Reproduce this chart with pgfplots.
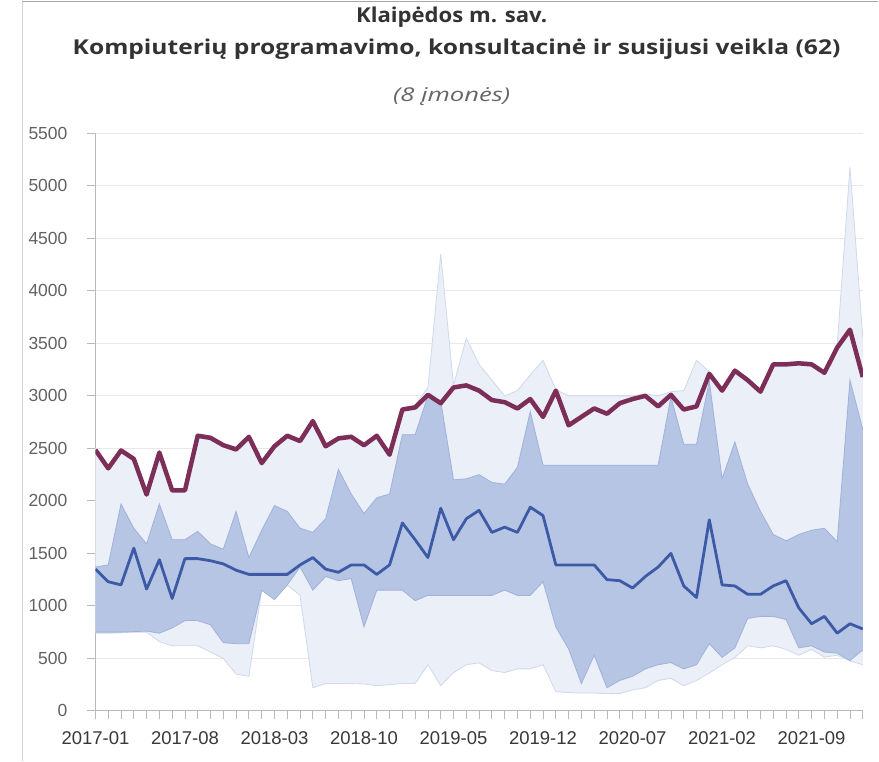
\documentclass[border=0pt]{standalone}
\usepackage{fontspec}
\setmainfont{Liberation Sans}
\newfontfamily\titlefont{Open Sans}
\usepackage{pgfplots}
\pgfplotsset{compat=1.18}
\usepackage{pgfplotstable}
\usepgfplotslibrary{fillbetween}

\definecolor{meanc}{RGB}{124,46,88}
\definecolor{medc}{RGB}{60,90,165}
\definecolor{innerc}{RGB}{183,197,228}
\definecolor{innerb}{RGB}{160,177,218}
\definecolor{outerc}{RGB}{234,239,248}
\definecolor{outerb}{RGB}{208,216,236}
\definecolor{titlec}{RGB}{51,51,51}

\pgfplotstableread{
m mx q3 med q1 mn avg
0 2505 1370 1350 750 740 2485
1 2330 1390 1230 750 740 2310
2 2500 1970 1200 750 745 2480
3 2420 1740 1550 755 750 2400
4 2080 1590 1160 760 750 2060
5 2480 1970 1440 740 660 2460
6 2120 1630 1070 790 620 2100
7 2120 1630 1450 860 620 2100
8 2640 1710 1450 860 620 2620
9 2620 1590 1430 820 560 2600
10 2550 1540 1400 650 500 2530
11 2510 1900 1340 640 350 2490
12 2630 1460 1300 640 330 2610
13 2380 1720 1300 1150 1150 2360
14 2540 1955 1300 1060 1060 2520
15 2640 1900 1300 1200 1200 2620
16 2590 1740 1390 1370 1100 2570
17 2780 1700 1460 1150 220 2760
18 2540 1830 1350 1280 260 2520
19 2615 2300 1320 1240 260 2595
20 2630 2065 1390 1260 260 2610
21 2550 1880 1390 800 256 2530
22 2640 2030 1300 1150 240 2620
23 2460 2065 1390 1150 250 2440
24 2890 2630 1790 1150 260 2870
25 2910 2630 1630 1050 260 2890
26 3080 3000 1460 1100 440 3010
27 4350 2950 1930 1100 240 2930
28 3100 2200 1630 1100 365 3080
29 3550 2210 1830 1100 440 3100
30 3300 2250 1910 1100 457 3050
31 3150 2175 1700 1100 384 2960
32 3000 2160 1750 1150 365 2940
33 3050 2320 1700 1100 400 2880
34 3200 2850 1940 1100 400 2970
35 3340 2340 1860 1230 440 2800
36 3060 2340 1390 800 183 3050
37 3000 2340 1390 590 175 2720
38 3000 2340 1390 260 170 2800
39 3000 2340 1390 530 170 2880
40 3000 2340 1250 220 164 2830
41 3000 2340 1240 290 165 2930
42 3000 2340 1170 330 200 2970
43 3020 2340 1280 400 220 3000
44 3000 2340 1370 440 290 2900
45 3040 2990 1500 460 310 3010
46 3050 2540 1190 400 240 2870
47 3340 2540 1080 440 290 2900
48 3230 3140 1820 640 360 3210
49 3070 2210 1200 510 440 3050
50 3260 2560 1190 600 510 3240
51 3170 2160 1110 880 620 3150
52 3060 1900 1110 900 600 3040
53 3320 1680 1190 900 620 3300
54 3320 1620 1240 870 585 3300
55 3330 1680 980 600 530 3310
56 3320 1720 830 620 585 3300
57 3240 1740 900 560 512 3220
58 3480 1610 740 550 530 3460
59 5180 3150 830 480 475 3630
60 3560 2680 780 580 440 3180
}\data

\begin{document}
\begin{tikzpicture}
\path (0pt,0pt) rectangle (879pt,761pt);
\draw[gray!35, line width=1pt] (23pt,0pt)--(23pt,761pt);
\draw[gray!70, line width=1.5pt] (23pt,760pt)--(879pt,760pt);
\node[font=\titlefont\bfseries\fontsize{20.5}{24}\selectfont, text=titlec] at (452pt,744pt) {\scalebox{1.08}[1]{Klaipėdos m. sav.}};
\node[font=\titlefont\bfseries\fontsize{20.5}{24}\selectfont, text=titlec] at (457pt,712pt) {\scalebox{1.2}[1]{Kompiuterių programavimo, konsultacinė ir susijusi veikla (62)}};
\node[font=\titlefont\itshape\fontsize{19}{22}\selectfont, text=black!60] at (452pt,665pt) {\scalebox{1.35}[1]{(8 įmonės)}};
\begin{axis}[
  at={(95.5pt,50pt)}, anchor=south west,
  width=768pt, height=578pt, scale only axis,
  xmin=0, xmax=60, ymin=0, ymax=5500,
  axis lines=left, axis line style={-, draw=gray!55, line width=0.9pt},
  no markers,
  xtick={0,7,...,56},
  xticklabels={2017-01,2017-08,2018-03,2018-10,2019-05,2019-12,2020-07,2021-02,2021-09},
  minor xtick={0,...,60},
  ytick={0,500,...,5500},
  tick align=outside,
  major tick length=8.5pt, minor tick length=8.5pt,
  tick style={draw=gray!55, line width=0.8pt},
  ymajorgrids, major grid style={draw=gray!18, line width=0.9pt},
  /pgf/number format/1000 sep={},
  /pgf/number format/assume math mode=true,
  yticklabel style={text=black!62, font=\fontsize{17.5}{20}\selectfont, xshift=-16pt},
  xticklabel style={text=black!78, font=\fontsize{18.5}{21}\selectfont, yshift=-9pt},
]
\addplot[draw=none, name path=mx] table[x=m,y=mx]{\data};
\addplot[draw=none, name path=mn] table[x=m,y=mn]{\data};
\addplot[draw=none, name path=q3] table[x=m,y=q3]{\data};
\addplot[draw=none, name path=q1] table[x=m,y=q1]{\data};
\addplot[fill=outerc, draw=none] fill between[of=mx and mn];
\addplot[fill=innerc, draw=none] fill between[of=q3 and q1];
\addplot[outerb, line width=0.8pt] table[x=m,y=mx]{\data};
\addplot[outerb, line width=0.8pt] table[x=m,y=mn]{\data};
\addplot[innerb, line width=0.8pt] table[x=m,y=q3]{\data};
\addplot[innerb, line width=0.8pt] table[x=m,y=q1]{\data};
\addplot[medc, line width=2.8pt, line join=round] table[x=m,y=med]{\data};
\addplot[meanc, line width=4.5pt, line join=round] table[x=m,y=avg]{\data};
\end{axis}
\end{tikzpicture}
\end{document}
